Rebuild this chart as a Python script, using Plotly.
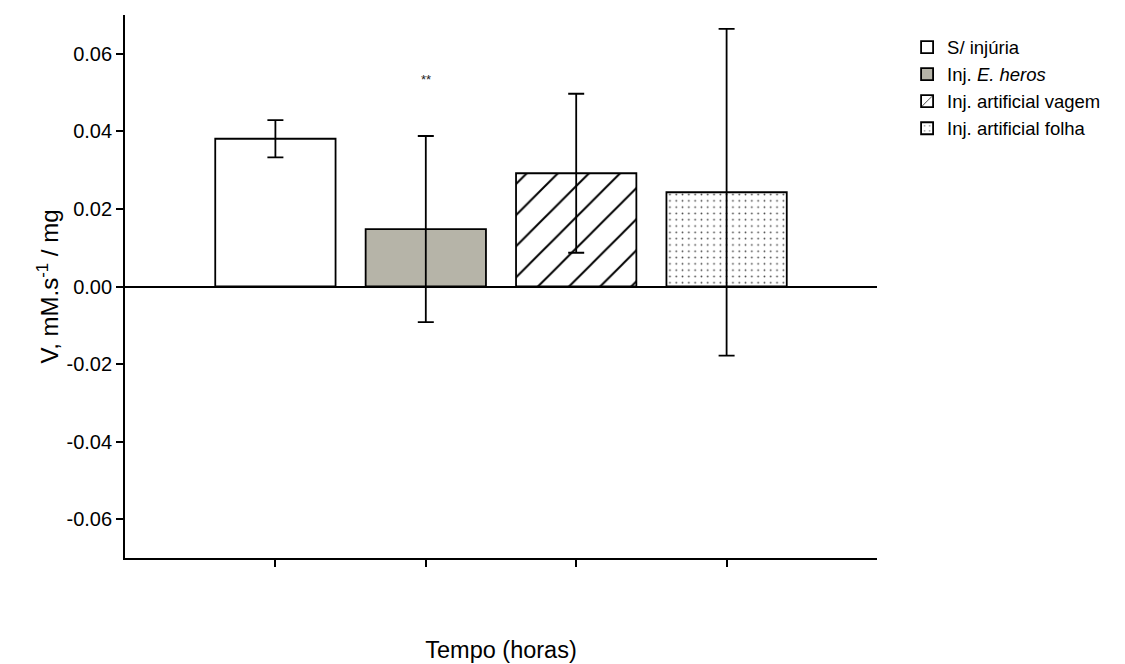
import plotly.graph_objects as go

categories = ["S/ injúria", "Inj. <i>E. heros</i>", "Inj. artificial vagem", "Inj. artificial folha"]
positions = [0, 1, 2, 3]
means = [0.0381, 0.0148, 0.0292, 0.0243]
errors = [0.0048, 0.0240, 0.0205, 0.0421]
fills = ["white", "#b6b4a8", "white", "white"]
patterns = ["", "", "/", "."]
pattern_sizes = [8, 8, 22, 6.3]
pattern_solidity = [0.2, 0.2, 0.09, 0.06]
pattern_fg = ["black", "black", "black", "#444444"]
tick_vals = [-0.06, -0.04, -0.02, 0.0, 0.02, 0.04, 0.06]
tick_text = ["-0.06", "-0.04", "-0.02", "0.00", "0.02", "0.04", "0.06"]
sig_label = "**"
sig_y = 0.0535

FONT = "Liberation Sans, Arial, sans-serif"

fig = go.Figure()
for i, name in enumerate(categories):
    marker = dict(color=fills[i], line=dict(color="black", width=1.8))
    if patterns[i]:
        marker["pattern"] = dict(shape=patterns[i], size=pattern_sizes[i],
                                 solidity=pattern_solidity[i],
                                 fgcolor=pattern_fg[i], fgopacity=1,
                                 bgcolor=fills[i], fillmode="replace")
    fig.add_trace(go.Bar(
        x=[positions[i]], y=[means[i]], name=name, width=0.8,
        marker=marker,
        error_y=dict(type="data", array=[errors[i]], visible=True,
                     color="black", thickness=1.8, width=8),
    ))

fig.add_annotation(x=positions[1], y=sig_y, text=sig_label, showarrow=False,
                   font=dict(family=FONT, size=13, color="#222222"))

# page body adds an 8px margin, so the figure is sized to fit the 1125x664 window
fig.update_layout(
    width=1117, height=656,
    plot_bgcolor="white", paper_bgcolor="white",
    margin=dict(l=117, r=248, t=7, b=106, autoexpand=False),
    barmode="overlay",
    font=dict(family=FONT, size=19, color="black"),
    showlegend=True,
    legend=dict(x=1.04, y=0.975, xanchor="left", yanchor="top",
                font=dict(family=FONT, size=18.5, color="black"),
                tracegroupgap=0, bgcolor="rgba(0,0,0,0)"),
    xaxis=dict(range=[-1, 4], tickvals=positions, ticktext=["", "", "", ""],
               ticks="outside", ticklen=7, tickwidth=1.5, tickcolor="black",
               showline=True, linecolor="black", linewidth=1.8,
               showgrid=False, zeroline=False, automargin=False,
               title=dict(text="Tempo (horas)", standoff=72,
                          font=dict(family=FONT, size=23.5))),
    yaxis=dict(range=[-0.07, 0.07], tickvals=tick_vals, ticktext=tick_text,
               ticks="outside", ticklen=7, tickwidth=1.5, tickcolor="black",
               showline=True, linecolor="black", linewidth=1.8,
               showgrid=False, zeroline=True, zerolinecolor="black", zerolinewidth=1.8,
               tickfont=dict(family=FONT, size=20), automargin=False,
               title=dict(text="V, mM.s<sup>-1</sup> / mg", standoff=1,
                          font=dict(family=FONT, size=24))),
)

fig.write_html("out.html")
